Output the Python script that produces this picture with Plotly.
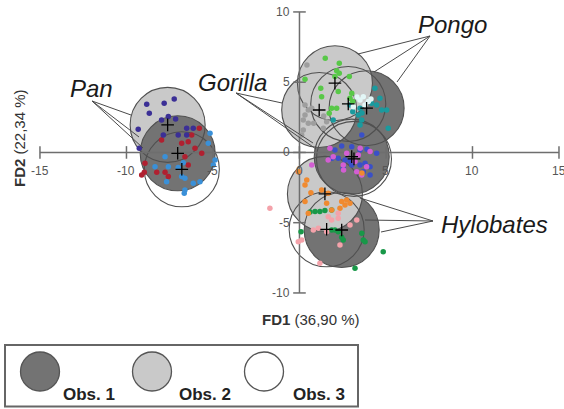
import numpy as np
import plotly.graph_objects as go

# ---- discriminant scores (FD1, FD2) per genus and observer ----
pan_obs1_fd1 = [-5.79, -6.23, -6.43, -7.97, -6.81, -5.65, -6.62, -8.93, -8.97, -8.25, -7.77, -6.04, -9.12, -7.58, -6.43]
pan_obs1_fd2 = [1.72, 1.25, 0.77, 0.89, 0.65, -0.06, -0.30, -0.77, -1.41, -1.41, -1.41, 0.30, -1.60, -1.72, -0.89]
pan_obs2_fd1 = [-8.83, -7.82, -7.24, -8.68, -9.32, -7.97, -7.58, -7.16, -6.52, -6.14, -7.01, -7.87, -9.26, -6.52]
pan_obs2_fd2 = [3.43, 3.50, 3.81, 2.79, 1.65, 2.31, 2.55, 2.38, 1.72, 1.72, 1.25, 1.25, 0.30, 1.25]
pan_obs3_fd1 = [-5.17, -7.77, -8.35, -7.58, -7.01, -6.72, -6.62, -7.68, -6.14, -6.62, -6.66, -4.88, -4.98, -5.27, -5.75, -6.81]
pan_obs3_fd2 = [1.37, -0.30, -1.01, -1.01, -1.08, -0.73, -1.84, -2.08, -2.19, -2.67, -2.90, -0.53, -0.89, 0.65, -2.08, -1.72]

gorilla_obs1_fd1 = [3.60, 2.44, 2.05, 3.02, 3.50, 4.46, 2.24, 2.63, 2.92, 3.02, 3.50, 3.79, 4.08, 2.53, 3.69, 4.08, 1.88, 3.90]
gorilla_obs1_fd2 = [1.25, 0.46, 0.18, 0.41, 0.18, -0.06, -0.41, -0.53, -0.65, -0.89, -0.89, -0.77, -1.01, -1.12, -1.37, -1.60, -0.41, 0.23]
gorilla_obs2_fd1 = [0.43, 0.32, 0.51, 0.32, 0.71, 0.22, 0.51, 1.57, 0.22, 0.13, 1.38, 0.82, 1.40]
gorilla_obs2_fd2 = [6.23, 3.38, 3.02, 2.67, 3.15, 2.31, 2.08, 2.19, 1.60, 1.25, 1.72, 2.08, 2.60]
gorilla_obs3_fd1 = [1.76, 1.95, 1.66, 3.40, 4.08, 2.53, 3.21, 3.31, 3.60, 3.88, 2.73, 0.71, 2.55, 3.51]
gorilla_obs3_fd2 = [0.30, -0.30, -0.53, -0.18, 0.06, -0.89, -0.65, -1.37, -1.60, -1.01, -0.06, -0.89, -1.25, 0.30]

pongo_obs1_fd1 = [4.36, 4.65, 4.17, 4.46, 4.75, 5.04, 3.50, 3.08, 3.40, 3.60, 3.50, 1.95, 5.13, 2.92, 3.61]
pongo_obs1_fd2 = [4.57, 3.86, 3.50, 3.38, 3.02, 3.02, 3.15, 2.90, 2.67, 2.31, 1.96, 2.31, 1.72, 3.38, 2.81]
pongo_obs2_fd1 = [1.49, 2.30, 2.15, 2.30, 2.05, 2.88, 0.32, 1.23, 2.24, 3.02, 1.28, 2.92, 3.08, 1.86, 2.15, 1.72]
pongo_obs2_fd2 = [6.70, 6.35, 5.82, 5.64, 5.40, 5.40, 5.21, 4.57, 4.33, 4.21, 3.97, 3.86, 3.62, 3.15, 3.15, 2.79]
pongo_obs3_fd1 = [3.50, 3.98, 3.79, 3.11, 3.69, 3.32, 4.13]
pongo_obs3_fd2 = [3.74, 3.62, 3.38, 3.26, 3.97, 3.95, 3.81]

hylobates_obs1_fd1 = [0.90, 1.18, 1.47, 1.86, 0.09, 1.86, 2.05, 2.53, 3.60, 3.69, 3.79, 4.84, 3.21, 2.24, 2.44, 0.61]
hylobates_obs1_fd2 = [-4.21, -4.21, -4.14, -4.09, -5.64, -5.52, -5.52, -6.23, -5.75, -6.23, -6.35, -7.06, -8.24, -5.64, -6.04, -4.23]
hylobates_obs2_fd1 = [-0.07, 0.42, 0.32, 0.66, 1.28, 1.66, 2.44, 2.73, 2.63, 1.57, 0.51, 1.86, 0.32, 2.92, 3.61, 2.34]
hylobates_obs2_fd2 = [-1.37, -1.96, -2.31, -2.86, -2.67, -2.90, -3.50, -3.38, -3.74, -3.62, -4.33, -4.09, -3.50, -3.62, -1.47, -3.97]
hylobates_obs3_fd1 = [3.31, -0.07, 0.80, 1.09, 1.57, 1.86, 1.66, 2.24, 2.34, 2.24, 1.18, 2.92, 0.13, -1.71]
hylobates_obs3_fd2 = [-4.80, -6.35, -5.52, -5.40, -5.64, -4.80, -4.57, -4.68, -6.58, -4.33, -7.89, -5.16, -6.23, -3.97]

# group centroids (order: Pan, Gorilla, Pongo, Hylobates)
genera = ["Pan", "Gorilla", "Pongo", "Hylobates"]
centroid_obs1_fd1 = [-7.04, 3.02, 3.88, 2.44]
centroid_obs1_fd2 = [-0.06, -0.30, 3.15, -5.52]
centroid_obs2_fd1 = [-7.62, 1.14, 2.05, 1.47]
centroid_obs2_fd2 = [1.96, 3.02, 4.93, -2.95]
centroid_obs3_fd1 = [-6.80, 3.15, 2.82, 1.57]
centroid_obs3_fd2 = [-1.20, -0.46, 3.45, -5.47]

x_ticks = [-15, -10, -5, 0, 5, 10, 15]
y_ticks = [-10, -5, 0, 5, 10]
x_title = "<b>FD1</b> (36,90 %)"
y_title = "<b>FD2</b> (22,34 %)"
observers = ["Obs. 1", "Obs. 2", "Obs. 3"]

# ---- styling ----
W, H = 564, 409
X_RANGE = [-17.31, 15.29]
Y_RANGE = [-18.26, 10.85]
FONT = "Liberation Sans, Arial, sans-serif"
R_PX = 37.5          # radius of the dispersion circles, in pixels
DARK, LIGHT, WHITE = "#737373", "#c9c9c9", "#ffffff"
EDGE = "#505050"
AXIS = "#6e6e6e"

groups = {
    ("Pan", 1): (pan_obs1_fd1, pan_obs1_fd2, "#b02030"),
    ("Pan", 2): (pan_obs2_fd1, pan_obs2_fd2, "#3b2f96"),
    ("Pan", 3): (pan_obs3_fd1, pan_obs3_fd2, "#3a90d8"),
    ("Gorilla", 1): (gorilla_obs1_fd1, gorilla_obs1_fd2, "#3a50c8"),
    ("Gorilla", 2): (gorilla_obs2_fd1, gorilla_obs2_fd2, "#9e9e9e"),
    ("Gorilla", 3): (gorilla_obs3_fd1, gorilla_obs3_fd2, "#d35ed3"),
    ("Pongo", 1): (pongo_obs1_fd1, pongo_obs1_fd2, "#1a9a9e"),
    ("Pongo", 2): (pongo_obs2_fd1, pongo_obs2_fd2, "#58c848"),
    ("Pongo", 3): (pongo_obs3_fd1, pongo_obs3_fd2, "#e2f6f6"),
    ("Hylobates", 1): (hylobates_obs1_fd1, hylobates_obs1_fd2, "#189848"),
    ("Hylobates", 2): (hylobates_obs2_fd1, hylobates_obs2_fd2, "#f08a30"),
    ("Hylobates", 3): (hylobates_obs3_fd1, hylobates_obs3_fd2, "#f4a2aa"),
}
centroids = {
    1: (centroid_obs1_fd1, centroid_obs1_fd2),
    2: (centroid_obs2_fd1, centroid_obs2_fd2),
    3: (centroid_obs3_fd1, centroid_obs3_fd2),
}
obs_fill = {1: DARK, 2: LIGHT, 3: WHITE}


def centroid(genus, obs):
    i = genera.index(genus)
    cx, cy = centroids[obs]
    return cx[i], cy[i]


def px(x):
    return x / W


def py(y):
    return 1 - y / H


def circle(xa, ya, r, fill, line, width=1.2, xref="x", yref="y", layer="below"):
    return dict(type="circle", xref=xref, yref=yref, layer=layer,
                xsizemode="pixel", ysizemode="pixel",
                xanchor=xa, yanchor=ya, x0=-r, x1=r, y0=-r, y1=r,
                fillcolor=fill, line=dict(color=line, width=width))


def note(x, y, text, font, **kw):
    d = dict(x=x, y=y, xref="paper", yref="paper", text=text, showarrow=False,
             xanchor="center", yanchor="middle", font=font)
    d.update(kw)
    return d


fig = go.Figure()
shapes = []

# circle fills, stacked back to front
fill_order = [("Pan", 3), ("Gorilla", 3), ("Pongo", 3), ("Hylobates", 3),
              ("Pan", 2), ("Pan", 1),
              ("Hylobates", 1), ("Hylobates", 2),
              ("Pongo", 1), ("Gorilla", 1),
              ("Gorilla", 2), ("Pongo", 2)]
for g, o in fill_order:
    cx, cy = centroid(g, o)
    shapes.append(circle(cx, cy, R_PX, obs_fill[o], "rgba(0,0,0,0)", width=0))
# circle outlines over the fills
for g, o in fill_order:
    cx, cy = centroid(g, o)
    shapes.append(circle(cx, cy, R_PX, "rgba(0,0,0,0)", EDGE, width=1.1))

# axes crossing at the origin
shapes.append(dict(type="line", xref="x", yref="y", layer="below",
                   x0=min(x_ticks), x1=max(x_ticks), y0=0, y1=0,
                   line=dict(color=AXIS, width=1.5)))
shapes.append(dict(type="line", xref="x", yref="y", layer="below",
                   x0=0, x1=0, y0=min(y_ticks), y1=max(y_ticks),
                   line=dict(color=AXIS, width=1.5)))

# tick marks
fig.add_trace(go.Scatter(x=x_ticks, y=[0] * len(x_ticks), mode="markers", hoverinfo="skip",
                         marker=dict(symbol="line-ns", size=9, line=dict(color=AXIS, width=1.5))))
fig.add_trace(go.Scatter(x=[0] * len(y_ticks), y=y_ticks, mode="markers", hoverinfo="skip",
                         marker=dict(symbol="line-ew", size=9, line=dict(color=AXIS, width=1.5))))

# individual specimens
for (g, o), (xs, ys, col) in groups.items():
    fig.add_trace(go.Scatter(x=xs, y=ys, mode="markers", name=f"{g} {o}",
                             marker=dict(size=5.5, color=col, line=dict(width=0))))

# centroids
for o in (1, 2, 3):
    cx, cy = centroids[o]
    fig.add_trace(go.Scatter(x=cx, y=cy, mode="markers", hoverinfo="skip",
                             marker=dict(symbol="cross-thin", size=9,
                                         line=dict(color="#000000", width=1.3))))

annotations = []
tick_font = dict(family=FONT, size=12, color="#555555")
for t in x_ticks:
    annotations.append(dict(x=t, y=0, xref="x", yref="y", text=str(t), showarrow=False,
                            xanchor="center", yanchor="middle", yshift=-19, font=tick_font))
for t in y_ticks:
    annotations.append(dict(x=0, y=t, xref="x", yref="y", text=str(t), showarrow=False,
                            xanchor="right", yanchor="middle", xshift=-7, font=tick_font))

title_font = dict(family=FONT, size=15, color="#333333")
annotations.append(note(px(311), py(319), x_title, title_font))
annotations.append(note(px(19), py(138), y_title, title_font, textangle=-90))

# genus labels with leader lines
labels = {
    "Pan": ((91, 88), (92, 101), [(131, 115), (139, 137), (143, 148)]),
    "Gorilla": ((232, 82), (236, 93), [(282, 103), (313, 143), (316, 149)]),
    "Pongo": ((452, 24), (430, 36), [(358, 54), (374, 72), (397, 82)]),
    "Hylobates": ((494, 224), (433, 221), [(360, 198), (365, 220), (381, 232)]),
}
label_font = dict(family=FONT, size=24, color="#1a1a1a")
for g, (tpos, anchor, ends) in labels.items():
    annotations.append(note(px(tpos[0]), py(tpos[1]), f"<i>{g}</i>", label_font))
    for ex, ey in ends:
        shapes.append(dict(type="line", xref="paper", yref="paper", layer="above",
                           x0=px(anchor[0]), y0=py(anchor[1]), x1=px(ex), y1=py(ey),
                           line=dict(color="#4a4a4a", width=1)))

# observer key
shapes.append(dict(type="rect", xref="paper", yref="paper", layer="above",
                   x0=px(5), x1=px(358), y0=py(406.5), y1=py(345),
                   line=dict(color="#666666", width=2), fillcolor="white"))
key_x = [40, 152, 264]
text_x = [89, 205, 319]
key_font = dict(family=FONT, size=17, color="#222222")
for i, o in enumerate((1, 2, 3)):
    shapes.append(circle(px(key_x[i]), py(371.5), 19.5, obs_fill[o], "#555555", width=1.3,
                         xref="paper", yref="paper", layer="above"))
    annotations.append(note(px(text_x[i]), py(394), f"<b>{observers[i]}</b>", key_font))

fig.update_layout(
    width=W, height=H, autosize=False,
    margin=dict(l=0, r=0, t=0, b=0, pad=0),
    paper_bgcolor="white", plot_bgcolor="white",
    showlegend=False,
    xaxis=dict(range=X_RANGE, visible=False, fixedrange=True),
    yaxis=dict(range=Y_RANGE, visible=False, fixedrange=True),
    shapes=shapes, annotations=annotations,
)
fig.write_html("out.html")
